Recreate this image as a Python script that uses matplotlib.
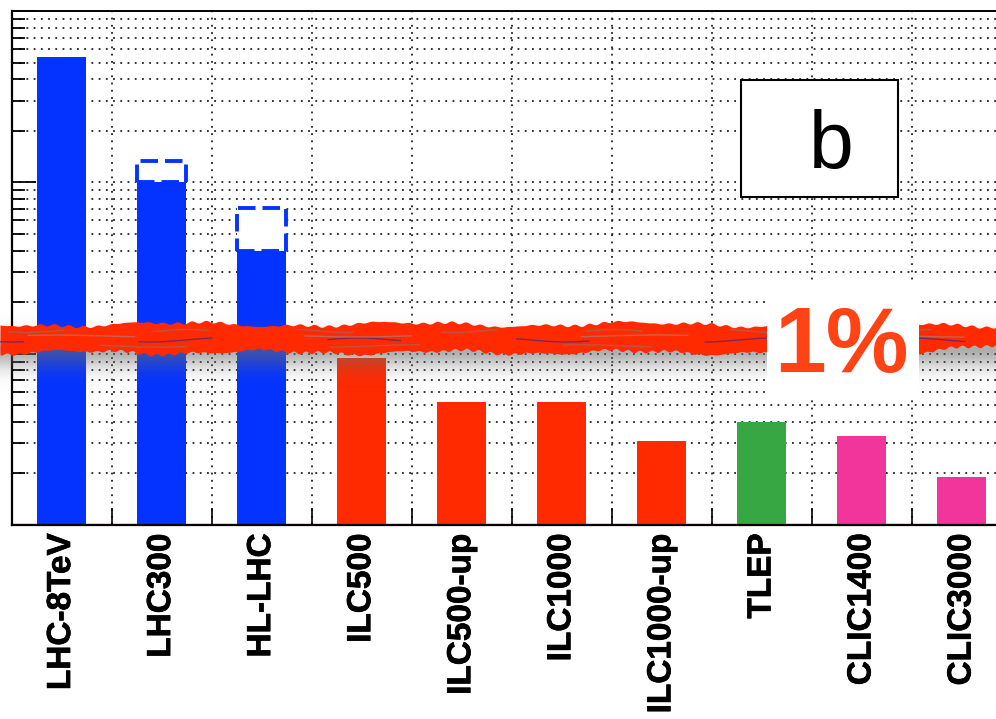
import numpy as np
import matplotlib
matplotlib.use('Agg')
import matplotlib.pyplot as plt
import matplotlib.patches as patches
import matplotlib.patheffects as pe
from matplotlib.ticker import LogLocator, NullFormatter

plt.rcParams['font.family'] = ['Liberation Sans', 'DejaVu Sans']

# relative precision on the b coupling, in percent
facilities = ['LHC-8TeV', 'LHC300', 'HL-LHC', 'ILC500', 'ILC500-up',
              'ILC1000', 'ILC1000-up', 'TLEP', 'CLIC1400', 'CLIC3000']
precision = [53.7, 10.0, 4.0, 0.94, 0.52, 0.52, 0.31, 0.40, 0.33, 0.19]
# pessimistic scenario for the LHC runs (dashed boxes)
upper_idx = [1, 2]
upper_val = [13.3, 7.1]
bar_colors = ['#0433ff', '#0433ff', '#0433ff', '#ff2a00', '#ff2a00',
              '#ff2a00', '#ff2a00', '#37a744', '#f2359b', '#f2359b']

W, H = 996, 719
ymin, ymax = 0.1, 100

fig = plt.figure(figsize=(W / 100, H / 100), dpi=100)
ax = fig.add_axes([11.5 / W, 194 / H, 1000.5 / W, 514 / H])
ax.set_yscale('log')
ax.set_ylim(ymin, ymax)
ax.set_xlim(0, len(facilities))
ax.set_axisbelow(True)

x = np.arange(len(facilities)) + 0.5
ax.bar(x, np.array(precision) - ymin, bottom=ymin, width=0.49,
       color=bar_colors, linewidth=0, zorder=2)
lo = np.array([precision[i] for i in upper_idx])
ax.bar(x[upper_idx], np.array(upper_val) - lo, bottom=lo, width=0.49,
       facecolor='white', edgecolor='#0433ff', linewidth=2.8,
       linestyle=(0, (4.5, 1.8)), zorder=3)
ax.axhline(ymin, color='#d42a00', lw=1.6, zorder=1.5)

# axis ticks and dotted grid
ax.yaxis.set_major_locator(LogLocator(base=10))
ax.yaxis.set_minor_locator(LogLocator(base=10, subs=np.arange(2, 10)))
ax.yaxis.set_minor_formatter(NullFormatter())
ax.tick_params(axis='y', which='major', direction='in', length=17, width=1.3,
               labelleft=False)
ax.tick_params(axis='y', which='minor', direction='in', length=9.5, width=1.3)
ax.set_xticks(np.arange(len(facilities) + 1))
ax.set_xticklabels([])
ax.set_xticks(x, minor=True)
labels = ax.set_xticklabels(facilities, minor=True, rotation=90, fontsize=24,
                            fontweight='bold', va='top', ha='center')
for t in labels:
    t.set_path_effects([pe.withStroke(linewidth=0.5, foreground='black')])
ax.tick_params(axis='x', which='major', direction='in', length=12, width=1.2)
ax.tick_params(axis='x', which='minor', length=0, pad=6)
ax.grid(which='both', axis='y', linestyle=(0, (1, 3)), lw=1.3, color='#222222')
ax.grid(which='major', axis='x', linestyle=(0, (1, 3)), lw=1.3, color='#222222')
for s in ['left', 'bottom']:
    ax.spines[s].set_linewidth(1.6)
ax.spines['top'].set_linewidth(1.4)

# overlay in pixel units for the annotations
ov = fig.add_axes([0, 0, 1, 1])
ov.set_xlim(0, W)
ov.set_ylim(H, 0)
ov.axis('off')
ov.patch.set_alpha(0)

# soft shadow around the brush stroke
yy = np.arange(H) + 0.5
alpha = np.where(yy > 345, 0.55 * np.exp(-((yy - 349) / 19) ** 2),
                 0.35 * np.exp(-((yy - 345) / 15) ** 2))
shade = np.zeros((H, 1, 4))
shade[..., :3] = 0.42
shade[:, 0, 3] = alpha
ov.imshow(shade, extent=(0, W, H, 0), aspect='auto', interpolation='bilinear',
          zorder=1)

# red brush stroke marking the 1% level
bx = np.linspace(0, W, 1200)
top = (324 + 2.0 * np.sin(bx / 37) + 1.2 * np.sin(bx / 13 + 1)
       + 1.3 * np.sin(bx / 2.3) * np.sin(bx / 41))
bot = (352 + 1.8 * np.sin(bx / 29 + 2) + 1.2 * np.sin(bx / 11)
       + 1.4 * np.sin(bx / 1.9 + 1) * np.sin(bx / 53 + 2))
bot -= np.clip((bx - 900) / 96, 0, 1) * 6
ov.fill_between(bx, top, bot, color='#ff2a00', lw=0, zorder=2)
# streaks inside the stroke
for k, (y0, amp, col) in enumerate([(331, 1.5, '#8a7470'), (340, 2.0, '#1b2a9a'),
                                    (346, 1.2, '#8a7470'), (336, 1.0, '#a08888')]):
    sy = y0 + amp * np.sin(bx / (17 + 5 * k) + k)
    seg = np.sin(bx / (23 + 7 * k) + 2 * k) > 0.35
    ov.plot(np.where(seg, bx, np.nan), sy, color=col, lw=1.0,
            alpha=0.6, zorder=2.5)

ov.add_patch(patches.Rectangle((767, 283), 152, 113, facecolor='white',
                               edgecolor='none', zorder=3))
ov.text(841, 372, '1%', fontsize=67, fontweight='bold', color='#ff4314',
        ha='center', va='baseline', zorder=4)

# panel label
ov.add_patch(patches.Rectangle((741, 80), 157, 117, facecolor='white',
                               edgecolor='black', lw=1.5, zorder=3))
ov.text(831, 168, 'b', fontsize=58, color='black', ha='center',
        va='baseline', zorder=4)

fig.savefig('out.png', dpi=100)
